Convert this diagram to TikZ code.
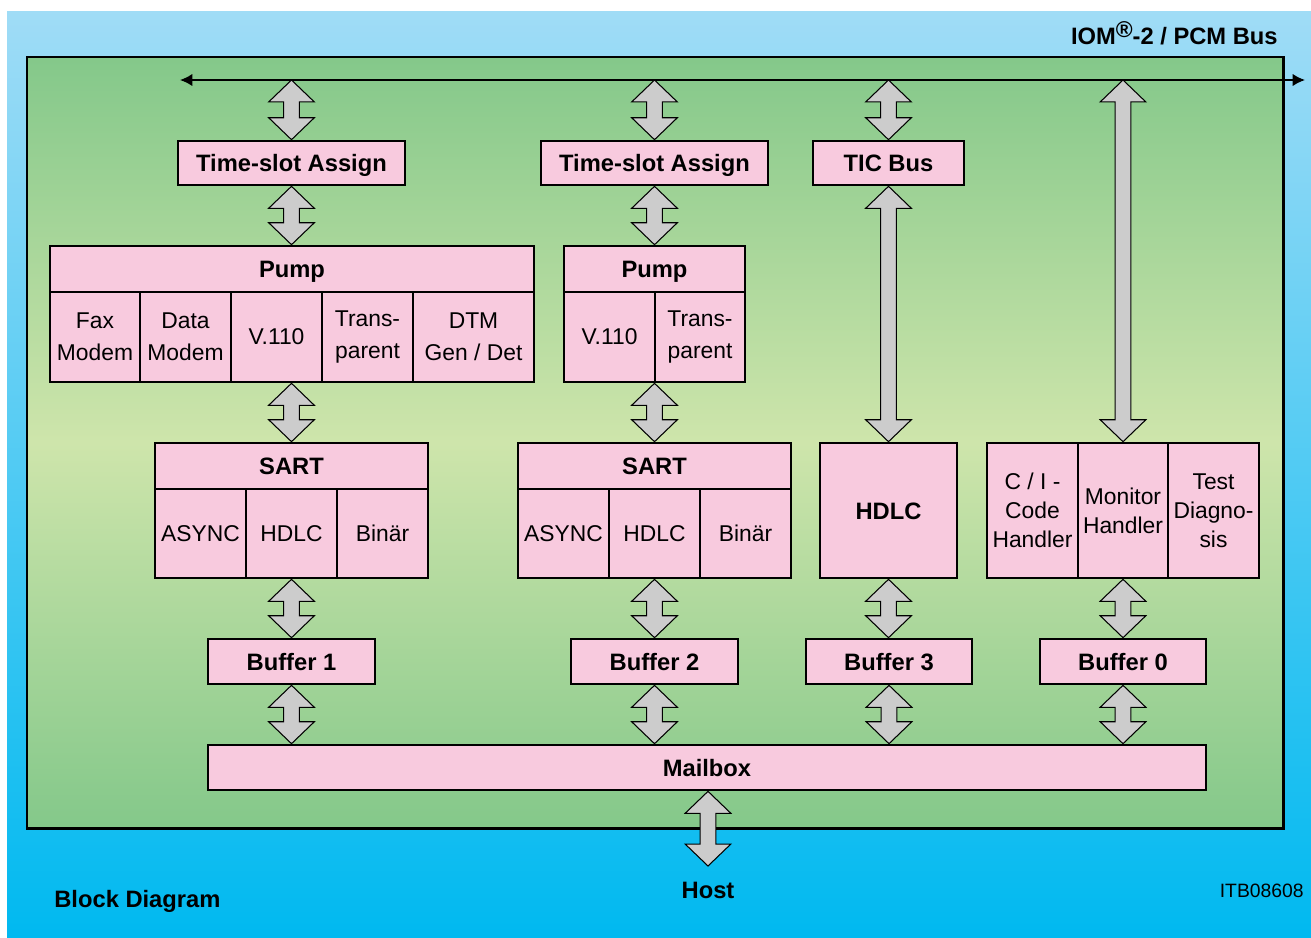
\documentclass[tikz,border=0pt]{standalone}
\usepackage{fontspec}
\setmainfont{Liberation Sans}
\usetikzlibrary{arrows.meta,calc,positioning}

\definecolor{skytop}{RGB}{160,220,246}
\definecolor{skybot}{RGB}{0,185,240}
\definecolor{chipedge}{RGB}{132,200,138}
\definecolor{chipmid}{RGB}{206,229,171}
\definecolor{blockpink}{RGB}{248,202,222}
\definecolor{arrowgray}{RGB}{204,204,204}

% fat double arrow between two points (first one on top)
\newcommand{\dblarrow}[2]{%
  \filldraw[gar] let \p1=(#1), \p2=(#2) in
    (\p1) -- (\x1+13pt,\y1-12.5pt) -- (\x1+4.5pt,\y1-12.5pt) -- (\x1+4.5pt,\y2+12.5pt)
    -- (\x1+13pt,\y2+12.5pt) -- (\x1,\y2) -- (\x1-13pt,\y2+12.5pt) -- (\x1-4.5pt,\y2+12.5pt)
    -- (\x1-4.5pt,\y1-12.5pt) -- (\x1-13pt,\y1-12.5pt) -- cycle;}

\begin{document}
\begin{tikzpicture}[x=0.02cm, y=-0.02cm,
    blk/.style={draw, line width=1.5pt, fill=blockpink, inner sep=0pt, align=center,
                font=\bfseries\fontsize{13.5}{15}\selectfont},
    solo/.style={blk, text height=9.7pt, text depth=0pt},
    head/.style={solo, minimum height=0.92cm},
    cell/.style={blk, minimum height=1.8cm, font=\fontsize{13}{18}\selectfont},
    gar/.style={draw=black, line width=0.6pt, fill=arrowgray},
    bus/.style={{Latex[length=7pt,width=7pt]}-{Latex[length=7pt,width=7pt]}, line width=0.9pt},
    lbl/.style={font=\bfseries\fontsize{13.5}{15}\selectfont, inner sep=0pt}
]
\useasboundingbox (0,0) rectangle (1311,937);
\shade[top color=skytop, bottom color=skybot] (7,11) rectangle (1311,937);
\shade[top color=chipedge, bottom color=chipedge, middle color=chipmid] (27,57) rectangle (1283,828);
\draw[line width=1.7pt] (27,57) rectangle (1283,828);

\coordinate (busL) at (180,80);
\coordinate (busR) at (1305,80);
\coordinate (hostend) at (708,866);

% first channel
\node[solo, minimum width=4.54cm, minimum height=0.88cm] (tsa1) at (291.5,163) {Time-slot Assign};
\node[head, minimum width=9.68cm] (pump1) at (292,269) {Pump};
\node[cell, minimum width=1.8cm] (fax) at (95,337) {Fax\\Modem};
\node[cell, minimum width=1.82cm] (data) at (185.5,337) {Data\\Modem};
\node[cell, minimum width=1.82cm] (v110a) at (276.5,337) {V.110};
\node[cell, minimum width=1.82cm] (transa) at (367.5,337) {Trans-\\parent};
\node[cell, minimum width=2.42cm] (dtm) at (473.5,337) {DTM\\Gen / Det};
\node[head, minimum width=5.46cm] (sart1) at (291.5,466) {SART};
\node[cell, minimum width=1.82cm, minimum height=1.78cm] (asynca) at (200.5,533.5) {ASYNC};
\node[cell, minimum width=1.82cm, minimum height=1.78cm] (hdlca) at (291.5,533.5) {HDLC};
\node[cell, minimum width=1.82cm, minimum height=1.78cm] (binara) at (382.5,533.5) {Binär};
\node[solo, minimum width=3.34cm, minimum height=0.9cm] (buf1) at (291.5,661.5) {Buffer 1};

% second channel
\node[solo, minimum width=4.54cm, minimum height=0.88cm] (tsa2) at (654.5,163) {Time-slot Assign};
\node[head, minimum width=3.62cm] (pump2) at (654.5,269) {Pump};
\node[cell, minimum width=1.82cm] (v110b) at (609.5,337) {V.110};
\node[cell, minimum width=1.8cm] (transb) at (700,337) {Trans-\\parent};
\node[head, minimum width=5.46cm] (sart2) at (654.5,466) {SART};
\node[cell, minimum width=1.82cm, minimum height=1.78cm] (asyncb) at (563.5,533.5) {ASYNC};
\node[cell, minimum width=1.82cm, minimum height=1.78cm] (hdlcb) at (654.5,533.5) {HDLC};
\node[cell, minimum width=1.82cm, minimum height=1.78cm] (binarb) at (745.5,533.5) {Binär};
\node[solo, minimum width=3.34cm, minimum height=0.9cm] (buf2) at (654.5,661.5) {Buffer 2};

% TIC / D-channel
\node[solo, minimum width=3.02cm, minimum height=0.88cm] (tic) at (888.5,163) {TIC Bus};
\node[solo, minimum width=2.74cm, minimum height=2.7cm] (hdlcc) at (888.5,510.5) {HDLC};
\node[solo, minimum width=3.32cm, minimum height=0.9cm] (buf3) at (889,661.5) {Buffer 3};

% monitor / C/I
\node[cell, minimum width=1.82cm, minimum height=2.7cm, font=\fontsize{13}{16.5}\selectfont] (cic) at (1032.5,510.5) {C / I -\\Code\\Handler};
\node[cell, minimum width=1.8cm, minimum height=2.7cm, font=\fontsize{13}{16.5}\selectfont] (mon) at (1123,510.5) {Monitor\\Handler};
\node[cell, minimum width=1.82cm, minimum height=2.7cm, font=\fontsize{13}{16.5}\selectfont] (test) at (1213.5,510.5) {Test\\Diagno-\\sis};
\node[solo, minimum width=3.32cm, minimum height=0.9cm] (buf0) at (1123,661.5) {Buffer 0};

\node[solo, minimum width=19.96cm, minimum height=0.9cm] (mail) at (707,767.5) {Mailbox};

% bus and fat arrows
\draw[bus] (busL) -- (busR);
\dblarrow{tsa1.north |- busL}{tsa1.north}
\dblarrow{tsa1.south}{pump1.north}
\dblarrow{sart1.north |- v110a.south}{sart1.north}
\dblarrow{buf1.north |- hdlca.south}{buf1.north}
\dblarrow{buf1.south}{buf1.south |- mail.north}
\dblarrow{tsa2.north |- busL}{tsa2.north}
\dblarrow{tsa2.south}{pump2.north}
\dblarrow{sart2.north |- v110b.south}{sart2.north}
\dblarrow{buf2.north |- hdlcb.south}{buf2.north}
\dblarrow{buf2.south}{buf2.south |- mail.north}
\dblarrow{tic.north |- busL}{tic.north}
\dblarrow{tic.south}{hdlcc.north}
\dblarrow{hdlcc.south}{buf3.north}
\dblarrow{buf3.south}{buf3.south |- mail.north}
\dblarrow{mon.north |- busL}{mon.north}
\dblarrow{mon.south}{buf0.north}
\dblarrow{buf0.south}{buf0.south |- mail.north}
\dblarrow{hostend |- mail.south}{hostend}

% captions
\node[lbl, anchor=base east] (iom) at (1278,44) {IOM\raisebox{0.5ex}{\fontsize{13}{13}\selectfont ®}-2 / PCM Bus};
\node[lbl, anchor=base] (host) at (708,898) {Host};
\node[lbl, anchor=base west] (title) at (54,907) {Block Diagram};
\node[anchor=base east, inner sep=0pt, font=\fontsize{11}{13}\selectfont] (code) at (1304,897) {ITB08608};
\end{tikzpicture}
\end{document}
